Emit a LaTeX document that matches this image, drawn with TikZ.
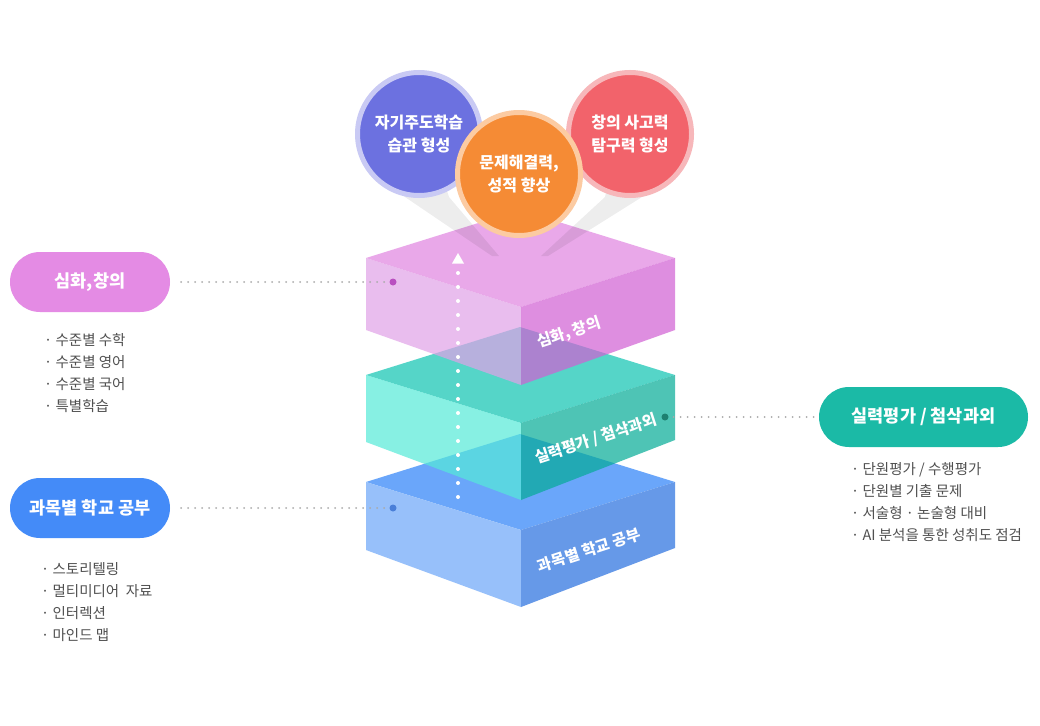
\documentclass[tikz,border=0pt]{standalone}
\usepackage{fontspec}
\setmainfont{Noto Sans CJK KR}
\usetikzlibrary{arrows.meta}
\definecolor{pinkT}{HTML}{E184E1}
\definecolor{pinkL}{HTML}{E1A1E7}
\definecolor{pinkR}{HTML}{D15FD3}
\definecolor{tealT}{HTML}{0EC4B2}
\definecolor{tealL}{HTML}{55EAD8}
\definecolor{tealR}{HTML}{04AB97}
\definecolor{blueT}{HTML}{6AA6FA}
\definecolor{blueL}{HTML}{97C0FA}
\definecolor{blueR}{HTML}{6699E8}
\definecolor{pillPink}{HTML}{E48BE4}
\definecolor{pillBlue}{HTML}{448BF8}
\definecolor{pillTeal}{HTML}{1BBAA6}
\definecolor{dotPink}{HTML}{B94FC0}
\definecolor{dotBlue}{HTML}{4A7FD8}
\definecolor{dotTeal}{HTML}{1E8070}
\definecolor{cBlue}{HTML}{6C71E0}
\definecolor{rBlue}{HTML}{C9CAF4}
\definecolor{cOrange}{HTML}{F58B35}
\definecolor{rOrange}{HTML}{FCCBA2}
\definecolor{cRed}{HTML}{F2636B}
\definecolor{rRed}{HTML}{F7B7BA}
\definecolor{listgray}{HTML}{505050}
\definecolor{conngray}{HTML}{AAAAAA}
\begin{document}
\begin{tikzpicture}[x=1pt,y=-1pt,
  pill/.style={rounded corners=30pt, minimum width=160pt, minimum height=60pt, inner sep=0pt,
    text=white, font=\bfseries\fontsize{17.5}{20}\selectfont},
  bubble/.style={circle, minimum size=123pt, inner sep=0pt, line width=5pt, text=white,
    align=center, font=\bfseries\fontsize{16}{23}\selectfont},
  layerlabel/.style={text=white, rotate=18, inner sep=0pt, font=\bfseries\fontsize{15.5}{18}\selectfont},
  listtext/.style={anchor=north west, inner sep=0pt, align=left, text=listgray,
    font=\fontsize{14.5}{22}\selectfont},
  enddot/.style={circle, minimum size=7pt, inner sep=0pt},
  dotconn/.style={conngray, line width=2pt, line cap=round, dash pattern=on 0pt off 7pt},
  beam/.style={fill=black, fill opacity=0.07}
]
\useasboundingbox (0,0) rectangle (1040,725);
\fill[white] (0,0) rectangle (1040,725);

% blue box (bottom, opaque)
\fill[blueT] (366,482) -- (520,434) -- (675,482) -- (521,530) -- cycle;
\fill[blueL] (366,482) -- (521,530) -- (521,607) -- (366,550) -- cycle;
\fill[blueR] (521,530) -- (675,482) -- (675,548) -- (521,607) -- cycle;

% teal box (translucent)
\begin{scope}[fill opacity=0.7]
\fill[tealT] (366,375) -- (520,327) -- (675,375) -- (521,423) -- cycle;
\fill[tealL] (366,375) -- (521,423) -- (521,500) -- (366,442) -- cycle;
\fill[tealR] (521,423) -- (675,375) -- (675,440) -- (521,500) -- cycle;
\end{scope}

% pink box (translucent)
\begin{scope}[fill opacity=0.7]
\fill[pinkT] (366,258) -- (520,210) -- (675,258) -- (521,307) -- cycle;
\fill[pinkL] (366,258) -- (521,307) -- (521,385) -- (366,330) -- cycle;
\fill[pinkR] (521,307) -- (675,258) -- (675,330) -- (521,385) -- cycle;
\end{scope}

% beams below the bubbles
\fill[beam] (372,175) -- (405,197) -- (492,256) -- (499,256) -- (449,197) -- (442,175) -- cycle;
\fill[beam] (678,175) -- (642,197) -- (548,256) -- (541,256) -- (605,197) -- (610,175) -- cycle;

% layer labels
\node[layerlabel] (lab1) at (569,333) {심화, 창의};
\node[layerlabel] (lab2) at (596,439) {실력평가 / 첨삭과외};
\node[layerlabel] (lab3) at (589,550) {과목별 학교 공부};

% upward dotted arrow
\coordinate (arrowfoot) at (458,497);
\coordinate (arrowtip) at (458,253);
\draw[white, line width=4pt, line cap=round, dash pattern=on 0pt off 14pt] (arrowfoot) -- (458,270);
\fill[white] (arrowtip) -- (464,263.5) -- (452,263.5) -- cycle;

% bubbles
\node[bubble, draw=rBlue, fill=cBlue] (b1) at (419,134) {자기주도학습\\습관 형성};
\node[bubble, draw=rRed, fill=cRed] (b3) at (630,134) {창의 사고력\\탐구력 형성};
\node[bubble, draw=rOrange, fill=cOrange] (b2) at (519,174) {문제해결력,\\성적 향상};

% pills
\node[pill, fill=pillPink] (pA) at (90,282) {심화,창의};
\node[pill, fill=pillBlue] (pB) at (90,508) {과목별 학교 공부};
\node[pill, fill=pillTeal, minimum width=209pt] (pC) at (923.5,417) {실력평가 / 첨삭과외};

% end dots and connectors
\node[enddot, fill=dotPink] (dA) at (393,282) {};
\node[enddot, fill=dotBlue] (dB) at (393,508) {};
\node[enddot, fill=dotTeal] (dC) at (665,417) {};
\draw[dotconn] ([xshift=11pt]pA.east) -- ([xshift=-4pt]dA.west);
\draw[dotconn] ([xshift=11pt]pB.east) -- ([xshift=-4pt]dB.west);
\draw[dotconn] ([xshift=5pt]dC.east) -- ([xshift=-4pt]pC.west);

% lists
\node[listtext] (lA) at (44,333) {· 수준별 수학\\· 수준별 영어\\· 수준별 국어\\· 특별학습};
\node[listtext] (lB) at (41,562) {· 스토리텔링\\· 멀티미디어\ \ 자료\\· 인터렉션\\· 마인드 맵};
\node[listtext] (lC) at (851,462) {· 단원평가 / 수행평가\\· 단원별 기출 문제\\· 서술형 · 논술형 대비\\· AI 분석을 통한 성취도 점검};
\end{tikzpicture}
\end{document}
